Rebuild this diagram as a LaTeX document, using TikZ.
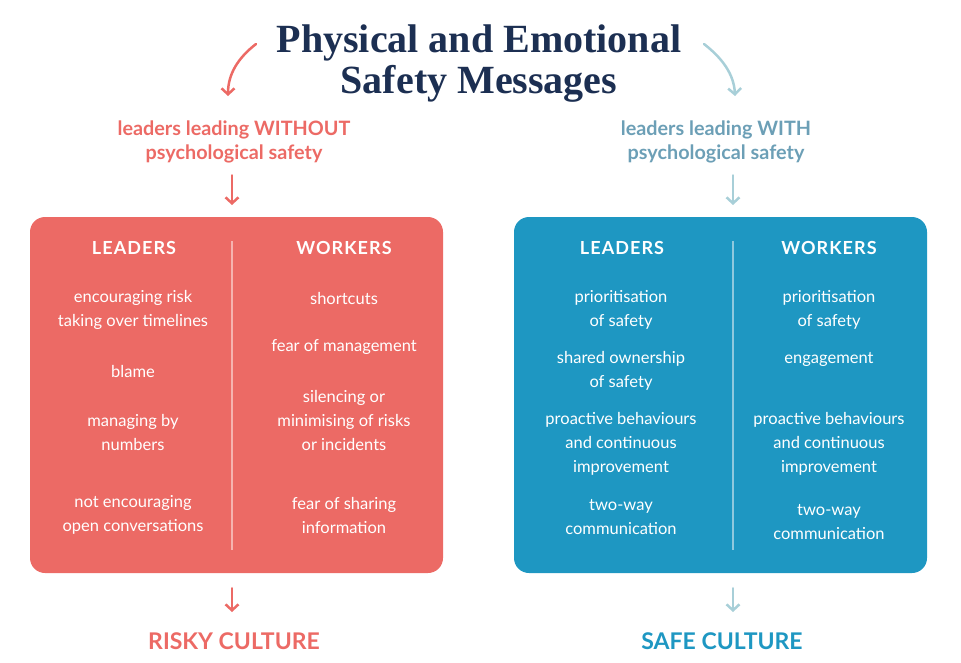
\documentclass[tikz,border=0pt]{standalone}
\usepackage{fontspec}
\setmainfont{Lato}
\newfontfamily\titlefont{Liberation Serif}
\usetikzlibrary{arrows.meta,positioning}

\definecolor{riskred}{HTML}{EC6A65}
\definecolor{riskline}{HTML}{F6B3AF}
\definecolor{safeblue}{HTML}{1E97C2}
\definecolor{safeline}{HTML}{8FC9DE}
\definecolor{safegrey}{HTML}{6C9FB6}
\definecolor{safearrow}{HTML}{A8CFD8}
\definecolor{navy}{HTML}{1C2F52}

\begin{document}
\begin{tikzpicture}[
    x=1pt, y=-1pt,
    panel/.style={rectangle, rounded corners=15pt, minimum width=413pt, minimum height=356pt, inner sep=0pt},
    head/.style={font=\fontsize{18}{20}\selectfont\bfseries\addfontfeature{LetterSpace=6}, text=white},
    item/.style={font=\fontsize{16.5}{24}\selectfont, text=white, align=center, inner sep=0pt},
    sub/.style={font=\fontsize{19.8}{24}\selectfont\bfseries, align=center, inner sep=0pt},
    outcome/.style={font=\fontsize{23}{24}\selectfont\bfseries, inner sep=0pt},
    divider/.style={line width=1.2pt},
    arr/.style={-{Straight Barb[length=6pt, width=13pt]}, line width=2.5pt, line cap=round},
]
\useasboundingbox (0,0) rectangle (961,662);

% Title
\node[font=\fontsize{40}{41}\selectfont\titlefont\bfseries, text=navy, align=center] (title) at (479,64)
    {Physical and Emotional\\Safety Messages};

% Curved arrows from the title
\coordinate (tailL) at (256,44);
\coordinate (headL) at (228,96);
\coordinate (tailR) at (704,44);
\coordinate (headR) at (735,96);
\draw[arr, riskred] (tailL) .. controls (238,58) and (228,74) .. (headL);
\draw[arr, safearrow] (tailR) .. controls (722,58) and (734,74) .. (headR);

% Subtitles
\node[sub, text=riskred] (subL) at (234,142) {leaders leading WITHOUT\\psychological safety};
\node[sub, text=safegrey] (subR) at (716,142) {leaders leading WITH\\psychological safety};

% Panels
\node[panel, fill=riskred] (boxL) at (236.5,395) {};
\node[panel, fill=safeblue] (boxR) at (720.5,395) {};

% Dividers
\draw[divider, riskline] (232,241) -- (232,550);
\draw[divider, safeline] (733,241) -- (733,550);

% Arrows into the panels
\coordinate (inL) at (232,205);
\coordinate (inR) at (733,205);
\draw[arr, riskred] (inL |- subL.south) ++(0,12) -- (inL);
\draw[arr, safearrow] (inR |- subR.south) ++(0,12) -- (inR);

% Left panel: leaders
\node[head] (ledL) at (134,248) {LEADERS};
\node[item] (l1) at (133,310) {encouraging risk\\taking over timelines};
\node[item] (l2) at (133,371) {blame};
\node[item] (l3) at (133,432) {managing by\\numbers};
\node[item] (l4) at (133,515) {not encouraging\\open conversations};

% Left panel: workers
\node[head] (wrkL) at (344,248) {WORKERS};
\node[item] (w1) at (344,298) {shortcuts};
\node[item] (w2) at (344,347) {fear of management};
\node[item] (w3) at (344,420) {silencing or\\minimising of risks\\or incidents};
\node[item] (w4) at (344,515) {fear of sharing\\information};

% Right panel: leaders
\node[head] (ledR) at (622,248) {LEADERS};
\node[item] (l5) at (621,310) {prioritisation\\of safety};
\node[item] (l6) at (621,371) {shared ownership\\of safety};
\node[item] (l7) at (621,444) {proactive behaviours\\and continuous\\improvement};
\node[item] (l8) at (621,517) {two-way\\communication};

% Right panel: workers
\node[head] (wrkR) at (829,248) {WORKERS};
\node[item] (w5) at (829,310) {prioritisation\\of safety};
\node[item] (w6) at (829,359) {engagement};
\node[item] (w7) at (829,444) {proactive behaviours\\and continuous\\improvement};
\node[item] (w8) at (829,522) {two-way\\communication};

% Outcomes
\node[outcome, text=riskred] (outL) at (234,641) {RISKY CULTURE};
\node[outcome, text=safeblue] (outR) at (722,641) {SAFE CULTURE};
\coordinate (endL) at (232,612);
\coordinate (endR) at (733,612);
\draw[arr, riskred] (endL |- boxL.south) ++(0,15) -- (endL);
\draw[arr, safearrow] (endR |- boxR.south) ++(0,15) -- (endR);

\end{tikzpicture}
\end{document}
